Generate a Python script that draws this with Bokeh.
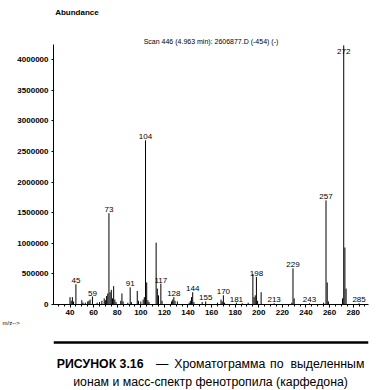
import numpy as np
from bokeh.plotting import figure
from bokeh.layouts import column
from bokeh.models import Range1d, SingleIntervalTicker, NumeralTickFormatter, Title
from bokeh.core.properties import value
from bokeh.embed import file_html
from bokeh.resources import INLINE

# ---- data ----
mz = [40, 41, 42, 43, 45, 50, 51, 53, 55, 56, 57, 59, 63, 65, 67, 69, 70, 71, 72, 73,
      74, 75, 76, 77, 78, 79, 83, 84, 85, 89, 91, 92, 97, 98, 100, 102, 103, 104, 105,
      106, 107, 113, 114, 115, 117, 118, 126, 127, 128, 129, 131, 141, 142, 143, 144,
      145, 152, 155, 165, 168, 169, 170, 171, 181, 186, 191, 195, 196, 197, 198, 199,
      202, 213, 228, 229, 230, 243, 255, 257, 258, 259, 271, 272, 273, 274, 285]
abundance = [120000, 60000, 120000, 50000, 330000, 70000, 30000, 30000, 50000, 60000,
             80000, 130000, 30000, 40000, 60000, 100000, 70000, 140000, 180000, 1490000,
             200000, 240000, 100000, 300000, 80000, 40000, 60000, 180000, 50000, 30000,
             280000, 40000, 220000, 60000, 50000, 80000, 120000, 2680000, 360000,
             70000, 40000, 1010000, 260000, 150000, 340000, 60000, 50000, 80000, 120000,
             60000, 50000, 30000, 60000, 120000, 200000, 40000, 40000, 50000, 30000,
             80000, 50000, 150000, 30000, 30000, 20000, 30000, 500000, 120000, 150000,
             450000, 60000, 200000, 20000, 30000, 590000, 100000, 20000, 30000, 1700000,
             360000, 50000, 100000, 4230000, 930000, 260000, 20000]
labelled_mz = [45, 59, 73, 91, 104, 117, 128, 144, 155, 170, 181, 198, 213, 229, 243,
               257, 272, 285]

title_text = "Scan 446 (4.963 min): 2606877.D (-454) (-)"
caption_bold = "РИСУНОК 3.16"
caption_line1 = ["—", "Хроматограмма", "по", "выделенным"]
caption_line2 = "ионам и масс-спектр фенотропила (карфедона)"

FONT = "Liberation Sans"
INK = "#000000"

# ---- geometry ----
W, H_HEAD, H_TOP, H_CAP = 381, 20, 314, 56
FL, FR, FT, FB = 53, 13, 24, 30
X0, X1 = 26, 293
Y0, Y1 = 0, 4245000

def blank(height, ymax):
    f = figure(width=W, height=height, x_range=Range1d(0, W), y_range=Range1d(ymax, 0),
               output_backend="svg", toolbar_location=None, min_border=0)
    f.axis.visible = False
    f.xgrid.visible = False
    f.ygrid.visible = False
    f.outline_line_color = None
    return f

# ---- header ----
h = blank(H_HEAD, H_HEAD)
h.text(x=[2], y=[12], text=["Abundance"], text_font=value(FONT), text_font_size="8px",
       text_font_style="bold", text_color=INK, text_align="left",
       text_baseline="middle")

# ---- spectrum ----
p = figure(width=W, height=H_TOP, x_range=Range1d(X0, X1), y_range=Range1d(Y0, Y1),
           output_backend="svg", toolbar_location=None,
           min_border_left=FL, min_border_right=FR, min_border_top=FT,
           min_border_bottom=FB)
p.outline_line_color = None
p.xgrid.visible = False
p.ygrid.visible = False
p.background_fill_color = "white"
p.border_fill_color = "white"

p.title.text = title_text
p.title.align = "center"
p.title.offset = 27
p.title.standoff = -1
p.title.text_font = FONT
p.title.text_font_size = "7px"
p.title.text_font_style = "normal"
p.title.text_color = INK

p.add_layout(Title(text="m/z-->", align="left", offset=-51, standoff=0,
                   text_font=FONT, text_font_size="6px", text_font_style="normal",
                   text_color=INK), "below")

p.segment(x0=mz, y0=[0] * len(mz), x1=mz, y1=abundance, line_color=INK, line_width=1)

ab = dict(zip(mz, abundance))
lab_y = [min(ab[m], 4070000) for m in labelled_mz]
p.text(x=labelled_mz, y=lab_y, text=[str(m) for m in labelled_mz],
       text_font=value(FONT), text_font_size="8px", text_color=INK,
       text_align="center", text_baseline="bottom", y_offset=-1)

xa = p.xaxis[0]
xa.ticker = SingleIntervalTicker(interval=20, num_minor_ticks=4)
xa.major_tick_out = 3
xa.major_tick_in = 0
xa.minor_tick_out = 2
xa.minor_tick_in = 0
xa.major_label_standoff = 2
xa.axis_line_color = INK
xa.major_tick_line_color = INK
xa.minor_tick_line_color = INK
xa.major_label_text_font = FONT
xa.major_label_text_font_size = "8px"
xa.major_label_text_font_style = "bold"
xa.major_label_text_color = INK

ya = p.yaxis[0]
ya.ticker = SingleIntervalTicker(interval=500000, num_minor_ticks=0)
ya.formatter = NumeralTickFormatter(format="0")
ya.major_tick_out = 2
ya.major_tick_in = 0
ya.minor_tick_line_color = None
ya.major_label_standoff = 3
ya.axis_line_color = INK
ya.major_tick_line_color = INK
ya.major_label_text_font = FONT
ya.major_label_text_font_size = "8px"
ya.major_label_text_font_style = "bold"
ya.major_label_text_color = INK

# ---- caption ----
CAP = "12.3px"
c = blank(H_CAP, H_CAP)
c.segment(x0=[0], y0=[8], x1=[W], y1=[8], line_color=INK, line_width=2.5)
c.text(x=[4], y=[29], text=[caption_bold], text_font=value(FONT),
       text_font_style="bold", text_font_size=CAP, text_color=INK,
       text_align="left", text_baseline="alphabetic")
c.text(x=[124, 146, 262], y=[29, 29, 29], text=caption_line1[:3],
       text_font=value(FONT), text_font_size=CAP, text_color=INK,
       text_align="left", text_baseline="alphabetic")
c.text(x=[376], y=[29], text=caption_line1[3:], text_font=value(FONT),
       text_font_size=CAP, text_color=INK, text_align="right",
       text_baseline="alphabetic")
c.text(x=[190], y=[47], text=[caption_line2], text_font=value(FONT),
       text_font_size=CAP, text_color=INK, text_align="center",
       text_baseline="alphabetic")

layout = column(h, p, c, spacing=0)
open("out.html", "w").write(file_html(layout, INLINE))
